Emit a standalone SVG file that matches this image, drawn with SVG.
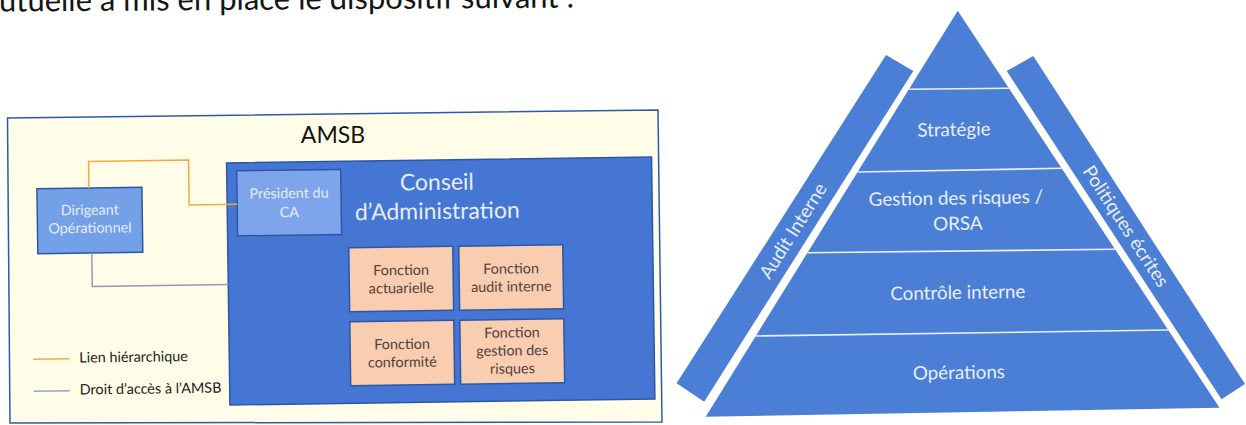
<svg xmlns="http://www.w3.org/2000/svg" width="1246" height="425" viewBox="0 0 1246 425">
  <style>
    text { font-family: Lato, "Liberation Sans", sans-serif; }
    .title { font-size: 31px; fill: #151515; }
    .big { font-size: 23px; text-anchor: middle; }
    .small { font-size: 14.4px; text-anchor: middle; }
    .light { fill: #e4ecfb; }
    .dark { fill: #141414; }
    .func { fill: #54423c; }
    .legend { font-size: 14.4px; fill: #1c1c1c; }
    .box { stroke: #2c57a6; stroke-width: 1.5; }
    .fn { fill: #f8cdb0; stroke: #2c57a6; stroke-width: 1.5; }
    .band { fill: #4b7fd5; }
    .sep { stroke: #e8f0ff; stroke-width: 1.6; }
    .ptext { font-size: 18.8px; fill: #e8effc; text-anchor: middle; }
    .link-h { fill: none; stroke: #f2a846; stroke-width: 1.5; }
    .link-a { fill: none; stroke: #8d9cb8; stroke-width: 1.5; }
  </style>

  <!-- running text above the figures -->
  <text class="title" x="-1" y="11.5" transform="rotate(-0.4 0 11.5)">utuelle a mis en place le dispositif suivant :</text>

  <!-- AMSB frame -->
  <g id="amsb">
    <polygon points="7.5,118 658,110 662,422 10,423" fill="#fffde8" stroke="#2c5aa8" stroke-width="1.5"/>
    <text class="big dark" x="333" y="143">AMSB</text>
  </g>

  <g transform="rotate(-0.8 335 265)">
    <!-- board of directors -->
    <g id="conseil">
      <rect class="box" x="228" y="161.5" width="425" height="242" fill="#4676d3"/>
      <text class="big light" x="438" y="191.5">Conseil</text>
      <text class="big light" x="438" y="220.5">d’Administration</text>
    </g>

    <g id="president">
      <rect class="box" x="238" y="169.5" width="104" height="65" fill="#7ea5ec"/>
      <text class="small light" x="290" y="197.5">Président du</text>
      <text class="small light" x="290" y="216.5">CA</text>
    </g>

    <g id="dirigeant">
      <rect class="box" x="38" y="184.5" width="105" height="65" fill="#74a0e8" stroke-width="2"/>
      <text class="small light" x="90.5" y="211.5">Dirigeant</text>
      <text class="small light" x="90.5" y="229.5">Opérationnel</text>
    </g>

    <g id="f-actuarielle">
      <rect class="fn" x="349" y="248" width="104" height="64"/>
      <text class="small func" x="401" y="276">Fonction</text>
      <text class="small func" x="401" y="294">actuarielle</text>
    </g>

    <g id="f-audit">
      <rect class="fn" x="459" y="248" width="104" height="64"/>
      <text class="small func" x="511" y="276">Fonction</text>
      <text class="small func" x="511" y="294">audit interne</text>
    </g>

    <g id="f-conformite">
      <rect class="fn" x="349" y="322" width="104" height="64"/>
      <text class="small func" x="401" y="350">Fonction</text>
      <text class="small func" x="401" y="368">conformité</text>
    </g>

    <g id="f-risques">
      <rect class="fn" x="459" y="322" width="104" height="64"/>
      <text class="small func" x="511" y="340">Fonction</text>
      <text class="small func" x="511" y="358">gestion des</text>
      <text class="small func" x="511" y="376">risques</text>
    </g>

    <!-- links between the executive and the board -->
    <g id="connectors">
      <path class="link-h" d="M90 184.5 V158 H190 V203 H238"/>
      <path class="link-a" d="M92 249.5 V283 H228"/>
    </g>

    <g id="legend">
      <line class="link-h" x1="32" y1="355" x2="68" y2="355"/>
      <text class="legend" x="78" y="359">Lien hiérarchique</text>
      <line x1="32" y1="387" x2="68" y2="387" stroke="#8fa6d0" stroke-width="1.5"/>
      <text class="legend" x="78" y="391">Droit d’accès à l’AMSB</text>
    </g>
  </g>

  <!-- control pyramid -->
  <g id="pyramid">
    <g id="side-audit">
      <polygon class="band" points="886,55 913.3,71 704.2,401.7 676.6,383.3"/>
      <text class="ptext" transform="translate(793.5 231) rotate(-57.7)" x="0" y="6">Audit Interne</text>
    </g>
    <g id="side-politiques">
      <polygon class="band" points="1006.7,71 1033.3,56 1245,384 1221.5,399.3"/>
      <text class="ptext" transform="translate(1125.5 226.5) rotate(56.8)" x="0" y="6">Politiques écrites</text>
    </g>

    <g id="level-top">
      <polygon class="band" points="957.7,10.7 1008.9,88.3 908.9,89.3"/>
    </g>
    <g id="level-strategie">
      <polygon class="band" points="908.9,89.3 1008.9,88.3 1061.6,168.3 857.6,172"/>
      <text class="ptext" x="954" y="136" transform="rotate(-1 954 136)">Stratégie</text>
    </g>
    <g id="level-risques">
      <polygon class="band" points="857.6,172 1061.6,168.3 1115,249.3 807.5,252.7"/>
      <text class="ptext" x="956" y="204.5" transform="rotate(-1 956 204.5)">Gestion des risques /</text>
      <text class="ptext" x="958" y="230" transform="rotate(-1 958 230)">ORSA</text>
    </g>
    <g id="level-controle">
      <polygon class="band" points="807.5,252.7 1115,249.3 1168.2,330 755.8,336"/>
      <text class="ptext" x="958" y="299" transform="rotate(-1 958 299)">Contrôle interne</text>
    </g>
    <g id="level-operations">
      <polygon class="band" points="755.8,336 1168.2,330 1219.5,407.8 705.7,416.7"/>
      <text class="ptext" x="959" y="379" transform="rotate(-1 959 379)">Opérations</text>
    </g>

    <line class="sep" x1="908.9" y1="89.3" x2="1008.9" y2="88.3"/>
    <line class="sep" x1="857.6" y1="172" x2="1061.6" y2="168.3"/>
    <line class="sep" x1="807.5" y1="252.7" x2="1115" y2="249.3"/>
    <line class="sep" x1="755.8" y1="336" x2="1168.2" y2="330"/>
  </g>
</svg>
